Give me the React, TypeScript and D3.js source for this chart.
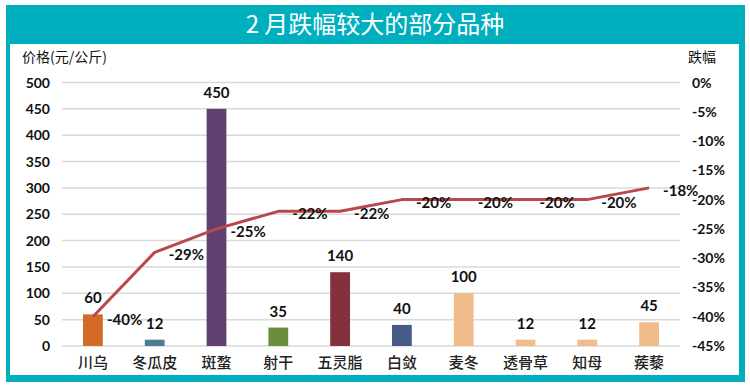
import { useEffect, useRef } from 'react';
import * as d3 from 'd3';

// categories, prices (元/公斤), monthly drop (%)
const categories = ['川乌', '冬瓜皮', '斑蝥', '射干', '五灵脂', '白敛', '麦冬', '透骨草', '知母', '蒺藜'];
const prices = [60, 12, 450, 35, 140, 40, 100, 12, 12, 45];
const drops = [-40, -29, -25, -22, -22, -20, -20, -20, -20, -18];
const barColors = ['#D36B26', '#4B7F8D', '#5F406F', '#6A8E3B', '#84313B', '#475A87', '#F0BC8C', '#F0BC8C', '#F0BC8C', '#F0BC8C'];
const leftTicks = [0, 50, 100, 150, 200, 250, 300, 350, 400, 450, 500];
const rightTicks = [0, -5, -10, -15, -20, -25, -30, -35, -40, -45];

const TEAL = '#00AFBE';
const NUM_FONT = "Lato, 'Noto Sans', sans-serif";
const CJK_FONT = "'Noto Sans CJK SC', 'Noto Sans', sans-serif";

export default function App() {
    const svgRef = useRef<SVGSVGElement>(null);
    const width = 750;
    const height = 388;

    useEffect(() => {
        if (!svgRef.current) return;
        const svg = d3.select(svgRef.current);
        svg.selectAll('*').remove();

        // frame
        svg.append('rect').attr('x', 6).attr('y', 5).attr('width', 739).attr('height', 377).attr('fill', TEAL);
        svg.append('rect').attr('x', 10).attr('y', 44).attr('width', 729).attr('height', 331).attr('fill', '#fff');

        svg.append('text')
            .attr('x', 375).attr('y', 33)
            .attr('text-anchor', 'middle')
            .style('fill', '#fff').style('font-size', '24px')
            .style('font-family', CJK_FONT)
            .text('2 月跌幅较大的部分品种');

        const plot = { left: 62, right: 680, top: 82.5, bottom: 346 };

        const x = d3.scaleBand<string>().domain(categories).range([plot.left, plot.right]).paddingInner(0.68).paddingOuter(0.34);
        const y = d3.scaleLinear().domain([0, 500]).range([plot.bottom, plot.top]);
        const y2 = d3.scaleLinear().domain([-45, 0]).range([plot.bottom, plot.top]);

        // grid
        svg.append('g').selectAll('line').data(leftTicks).join('line')
            .attr('x1', plot.left).attr('x2', plot.right)
            .attr('y1', d => y(d)).attr('y2', d => y(d))
            .attr('stroke', '#D9D9D9').attr('stroke-width', 1.5);

        // left axis labels
        svg.append('g').selectAll('text').data(leftTicks).join('text')
            .attr('x', 50).attr('y', d => y(d) + 5)
            .attr('text-anchor', 'end')
            .style('font-family', NUM_FONT).style('font-weight', 'bold').style('font-size', '14px').style('fill', '#111')
            .text(d => d);

        // right axis labels
        svg.append('g').selectAll('text').data(rightTicks).join('text')
            .attr('x', 692).attr('y', d => y2(d) + 5)
            .attr('text-anchor', 'start')
            .style('font-family', NUM_FONT).style('font-weight', 'bold').style('font-size', '14px').style('fill', '#111')
            .text(d => `${d}%`);

        // axis titles
        svg.append('text').attr('x', 22).attr('y', 62)
            .style('font-family', CJK_FONT).style('font-size', '14px').style('fill', '#111')
            .text('价格(元/公斤)');
        svg.append('text').attr('x', 688).attr('y', 62)
            .style('font-family', CJK_FONT).style('font-size', '14px').style('fill', '#111')
            .text('跌幅');

        // bars
        const bw = x.bandwidth();
        svg.append('g').selectAll('rect').data(prices).join('rect')
            .attr('x', (_, i) => x(categories[i])!)
            .attr('y', d => y(d))
            .attr('width', bw)
            .attr('height', d => plot.bottom - y(d))
            .attr('fill', (_, i) => barColors[i]);

        svg.append('g').selectAll('text').data(prices).join('text')
            .attr('x', (_, i) => x(categories[i])! + bw / 2)
            .attr('y', d => y(d) - 11)
            .attr('text-anchor', 'middle')
            .style('font-family', NUM_FONT).style('font-weight', 'bold').style('font-size', '15px').style('fill', '#111')
            .text(d => d);

        // category labels
        svg.append('g').selectAll('text').data(categories).join('text')
            .attr('x', d => x(d)! + bw / 2)
            .attr('y', 368)
            .attr('text-anchor', 'middle')
            .style('font-family', CJK_FONT).style('font-weight', 500).style('font-size', '15px').style('fill', '#222')
            .text(d => d);

        // drop line
        const line = d3.line<number>()
            .x((_, i) => x(categories[i])! + bw / 2)
            .y(d => y2(d));
        svg.append('path').datum(drops)
            .attr('d', line)
            .attr('fill', 'none')
            .attr('stroke', '#B9474C')
            .attr('stroke-width', 3)
            .attr('stroke-linejoin', 'round');

        svg.append('g').selectAll('text').data(drops).join('text')
            .attr('x', (_, i) => x(categories[i])! + bw / 2 + 14)
            .attr('y', d => y2(d) + 8)
            .style('font-family', NUM_FONT).style('font-weight', 'bold').style('font-size', '15px').style('fill', '#111')
            .text(d => `${d}%`);
    }, []);

    return (
        <svg ref={svgRef} width={width} height={height}
            style={{ position: 'absolute', left: 0, top: 0, background: '#fff' }} />
    );
}
